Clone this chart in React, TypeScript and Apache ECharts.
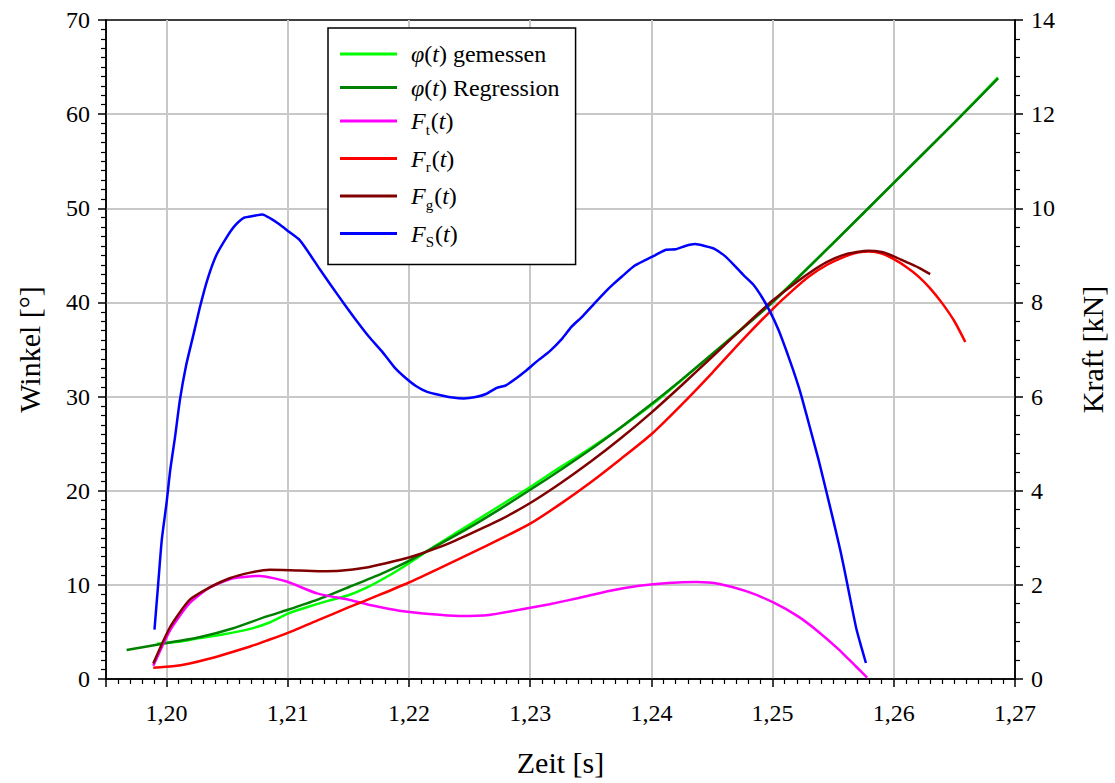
import { useEffect, useRef } from 'react';
import * as echarts from 'echarts';

// Zeitachse [s] und Messwerte
// φ(t) gemessen  [°]
const tGemessen = [1.1992, 1.2010, 1.2027, 1.2045, 1.2068, 1.2085, 1.2100, 1.2115, 1.2133, 1.2150, 1.2165, 1.2185, 1.2200, 1.2220, 1.2240, 1.2260, 1.2280, 1.2300, 1.2320, 1.2340, 1.2360, 1.2380, 1.2400, 1.2430, 1.2460, 1.2500, 1.2550, 1.2600, 1.2650, 1.2686];
const phiGemessen = [3.75, 3.95, 4.35, 4.7, 5.3, 6.0, 6.95, 7.6, 8.3, 8.9, 9.7, 11.1, 12.3, 14.0, 15.6, 17.2, 18.8, 20.4, 22.1, 23.7, 25.4, 27.2, 29.1, 32.3, 35.6, 40.1, 46.3, 52.7, 59.1, 63.9];

// φ(t) Regression [°]
const tRegression = [1.1967, 1.1999, 1.2027, 1.2055, 1.2082, 1.2100, 1.2124, 1.2151, 1.2178, 1.2200, 1.2225, 1.2250, 1.2275, 1.2300, 1.2325, 1.2350, 1.2375, 1.2400, 1.2425, 1.2450, 1.2475, 1.2500, 1.2550, 1.2600, 1.2650, 1.2686];
const phiRegression = [3.08, 3.8, 4.43, 5.39, 6.62, 7.35, 8.4, 9.8, 11.23, 12.55, 14.3, 16.1, 18.05, 20.1, 22.2, 24.4, 26.75, 29.2, 31.8, 34.5, 37.2, 40.0, 46.3, 52.7, 59.1, 63.8];

// F_t(t) [kN]
const tFt = [1.1989, 1.2003, 1.2019, 1.2036, 1.2055, 1.2077, 1.2099, 1.2124, 1.2151, 1.2170, 1.2192, 1.2217, 1.2241, 1.2266, 1.2291, 1.2316, 1.2340, 1.2365, 1.2390, 1.2414, 1.2437, 1.2456, 1.2480, 1.2501, 1.2521, 1.2538, 1.2554, 1.2569, 1.2578];
const fT = [0.28, 1.04, 1.61, 1.95, 2.14, 2.19, 2.07, 1.82, 1.68, 1.56, 1.45, 1.38, 1.34, 1.36, 1.47, 1.59, 1.72, 1.87, 1.98, 2.04, 2.06, 2.02, 1.85, 1.62, 1.33, 1.0, 0.64, 0.26, 0.03];

// F_r(t) [kN]
const tFr = [1.1989, 1.2005, 1.2019, 1.2035, 1.2055, 1.2070, 1.2082, 1.2100, 1.2125, 1.2150, 1.2175, 1.2200, 1.2225, 1.2250, 1.2275, 1.2300, 1.2325, 1.2350, 1.2375, 1.2400, 1.2425, 1.2450, 1.2475, 1.2500, 1.2515, 1.2530, 1.2545, 1.2560, 1.2570, 1.2580, 1.2590, 1.2600, 1.2610, 1.2620, 1.2630, 1.2640, 1.2650, 1.2659];
const fR = [0.24, 0.27, 0.33, 0.43, 0.58, 0.7, 0.81, 0.98, 1.25, 1.52, 1.78, 2.05, 2.35, 2.66, 2.97, 3.3, 3.72, 4.18, 4.68, 5.2, 5.83, 6.5, 7.2, 7.86, 8.22, 8.55, 8.8, 8.98, 9.06, 9.08, 9.04, 8.92, 8.76, 8.56, 8.3, 7.98, 7.6, 7.16];

// F_g(t) [kN]
const tFg = [1.1989, 1.2003, 1.2019, 1.2036, 1.2052, 1.2069, 1.2085, 1.2102, 1.2126, 1.2143, 1.2165, 1.2181, 1.2200, 1.2225, 1.2250, 1.2275, 1.2300, 1.2325, 1.2350, 1.2375, 1.2400, 1.2425, 1.2450, 1.2475, 1.2500, 1.2515, 1.2530, 1.2545, 1.2560, 1.2579, 1.2590, 1.2600, 1.2612, 1.2622, 1.2630];
const fG = [0.33, 1.11, 1.68, 1.95, 2.14, 2.26, 2.32, 2.31, 2.29, 2.3, 2.37, 2.46, 2.58, 2.8, 3.08, 3.38, 3.74, 4.16, 4.62, 5.12, 5.66, 6.24, 6.84, 7.45, 8.04, 8.34, 8.62, 8.86, 9.02, 9.1, 9.07, 8.98, 8.84, 8.72, 8.6];

// F_S(t) [kN]
const tFs = [1.1990, 1.1993, 1.1996, 1.2000, 1.2003, 1.2007, 1.2011, 1.2016, 1.2022, 1.2028, 1.2034, 1.2041, 1.2049, 1.2056, 1.2064, 1.2072, 1.2079, 1.2086, 1.2093, 1.2101, 1.2110, 1.2118, 1.2126, 1.2136, 1.2147, 1.2157, 1.2167, 1.2178, 1.2188, 1.2197, 1.2206, 1.2215, 1.2226, 1.2236, 1.2245, 1.2255, 1.2264, 1.2272, 1.2280, 1.2288, 1.2297, 1.2307, 1.2316, 1.2326, 1.2334, 1.2343, 1.2352, 1.2361, 1.2369, 1.2377, 1.2386, 1.2395, 1.2403, 1.2412, 1.2420, 1.2428, 1.2436, 1.2444, 1.2452, 1.2460, 1.2468, 1.2476, 1.2484, 1.2491, 1.2498, 1.2505, 1.2511, 1.2517, 1.2523, 1.2528, 1.2533, 1.2538, 1.2544, 1.2550, 1.2556, 1.2561, 1.2565, 1.2569, 1.2573, 1.2577];
const fS = [1.05, 2.0, 2.95, 3.75, 4.44, 5.15, 5.93, 6.65, 7.3, 7.95, 8.51, 9.0, 9.36, 9.62, 9.8, 9.84, 9.87, 9.78, 9.66, 9.5, 9.32, 9.03, 8.72, 8.35, 7.95, 7.6, 7.27, 6.95, 6.62, 6.4, 6.22, 6.1, 6.03, 5.98, 5.96, 5.99, 6.06, 6.18, 6.24, 6.38, 6.56, 6.78, 6.96, 7.22, 7.48, 7.7, 7.95, 8.2, 8.4, 8.58, 8.78, 8.9, 9.0, 9.12, 9.13, 9.2, 9.24, 9.2, 9.14, 9.0, 8.8, 8.58, 8.38, 8.12, 7.8, 7.41, 7.0, 6.56, 6.08, 5.61, 5.13, 4.65, 4.02, 3.38, 2.72, 2.1, 1.58, 1.08, 0.7, 0.34];

const SERIF = 'Liberation Serif, Times New Roman, serif';

const seriesNames = ['φ(t) gemessen', 'φ(t) Regression', 'Ft(t)', 'Fr(t)', 'Fg(t)', 'FS(t)'];
const legendLabels: Record<string, string> = {
  'φ(t) gemessen': '{i|φ}{n|(}{i|t}{n|) gemessen}',
  'φ(t) Regression': '{i|φ}{n|(}{i|t}{n|) Regression}',
  'Ft(t)': '{i|F}{s|t}{n|(}{i|t}{n|)}',
  'Fr(t)': '{i|F}{s|r}{n|(}{i|t}{n|)}',
  'Fg(t)': '{i|F}{s|g}{n|(}{i|t}{n|)}',
  'FS(t)': '{i|F}{s|S}{n|(}{i|t}{n|)}',
};

const pairs = (t: number[], v: number[]) => t.map((x, i) => [x, v[i]]);

function lineSeries(name: string, color: string, yAxisIndex: number, data: number[][]) {
  return {
    name,
    type: 'line',
    yAxisIndex,
    data,
    symbol: 'none',
    smooth: 0.2,
    lineStyle: { color, width: 2.5 },
    itemStyle: { color },
  };
}

export default function App() {
  const ref = useRef<HTMLDivElement>(null);

  useEffect(() => {
    if (!ref.current) return;
    const chart = echarts.init(ref.current, undefined, { renderer: 'svg' });

    const axisLine = { show: true, lineStyle: { color: '#000', width: 1.5 } };
    const axisTick = { show: true, length: 8, lineStyle: { color: '#000', width: 1.5 } };
    const labelStyle = { fontFamily: SERIF, fontSize: 24, color: '#000' };
    const nameStyle = { fontFamily: SERIF, fontSize: 30, color: '#000' };
    const grey = { color: '#c8c8c8', width: 2 };

    chart.setOption({
      animation: false,
      backgroundColor: '#fff',
      textStyle: { fontFamily: SERIF },
      grid: {
        left: 106, right: 98, top: 20, bottom: 104,
        show: true, borderColor: '#000', borderWidth: 1.5, backgroundColor: 'transparent',
      },
      legend: {
        orient: 'vertical',
        left: 328,
        top: 28,
        padding: [14, 16, 15, 12],
        itemGap: 9.5,
        itemWidth: 57,
        itemHeight: 3,
        icon: 'rect',
        borderColor: '#000',
        borderWidth: 1.5,
        backgroundColor: '#fff',
        data: seriesNames,
        formatter: (name: string) => legendLabels[name] ?? name,
        textStyle: {
          fontFamily: SERIF,
          padding: [0, 0, 0, 9],
          rich: {
            n: { fontFamily: SERIF, fontSize: 24, lineHeight: 32, color: '#000', verticalAlign: 'middle' },
            i: { fontFamily: SERIF, fontSize: 24, lineHeight: 32, fontStyle: 'italic', color: '#000', verticalAlign: 'middle' },
            s: { fontFamily: SERIF, fontSize: 15, lineHeight: 15, color: '#000', verticalAlign: 'bottom', padding: [1, 1, 0, 0] },
          },
        },
      },
      xAxis: {
        type: 'value',
        min: 1.195,
        max: 1.27,
        splitNumber: 7,
        name: 'Zeit [s]',
        nameLocation: 'middle',
        nameGap: 68,
        nameTextStyle: nameStyle,
        axisLine,
        axisTick,
        minorTick: { show: true, splitNumber: 10, length: 5, lineStyle: { color: '#000', width: 1.2 } },
        axisLabel: {
          ...labelStyle,
          margin: 22,
          showMinLabel: false,
          formatter: (v: number) => (v < 1.1995 ? '' : v.toFixed(2).replace('.', ',')),
        },
        splitLine: { show: true, showMinLine: false, showMaxLine: false, lineStyle: grey },
      },
      yAxis: [
        {
          type: 'value',
          position: 'left',
          min: 0,
          max: 70,
          interval: 10,
          name: 'Winkel [°]',
          nameLocation: 'middle',
          nameGap: 62,
          nameTextStyle: nameStyle,
          axisLine,
          axisTick,
          minorTick: { show: true, splitNumber: 10, length: 5, lineStyle: { color: '#000', width: 1.2 } },
          axisLabel: { ...labelStyle, margin: 16 },
          splitLine: { show: true, showMinLine: false, showMaxLine: false, lineStyle: grey },
        },
        {
          type: 'value',
          position: 'right',
          min: 0,
          max: 14,
          interval: 2,
          name: 'Kraft [kN]',
          nameLocation: 'middle',
          nameGap: 62,
          nameTextStyle: nameStyle,
          axisLine,
          axisTick,
          minorTick: { show: true, splitNumber: 5, length: 5, lineStyle: { color: '#000', width: 1.2 } },
          axisLabel: { ...labelStyle, margin: 16 },
          splitLine: { show: false },
        },
      ],
      series: [
        lineSeries(seriesNames[0], '#00ff00', 0, pairs(tGemessen, phiGemessen)),
        lineSeries(seriesNames[1], '#008000', 0, pairs(tRegression, phiRegression)),
        lineSeries(seriesNames[2], '#ff00ff', 1, pairs(tFt, fT)),
        lineSeries(seriesNames[3], '#ff0000', 1, pairs(tFr, fR)),
        lineSeries(seriesNames[4], '#800000', 1, pairs(tFg, fG)),
        lineSeries(seriesNames[5], '#0000ff', 1, pairs(tFs, fS)),
      ],
    });

    return () => chart.dispose();
  }, []);

  return (
    <div
      ref={ref}
      style={{ position: 'fixed', left: 0, top: 0, width: 1115, height: 783, background: '#fff' }}
    />
  );
}
